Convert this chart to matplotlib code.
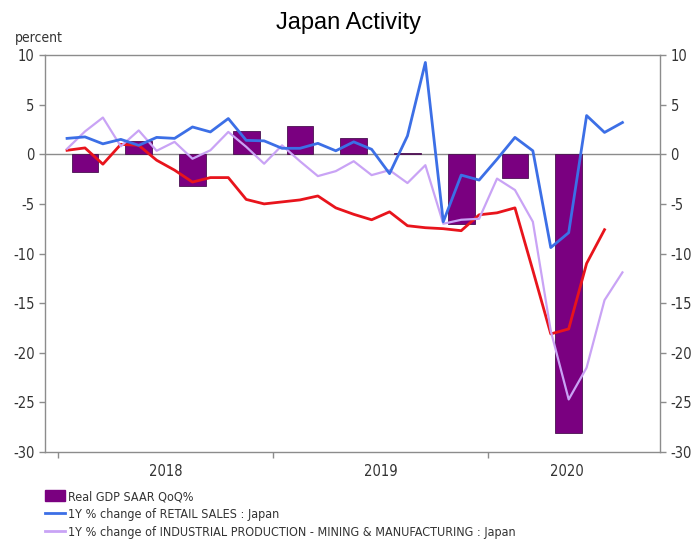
import numpy as np
import matplotlib
matplotlib.use("Agg")
import matplotlib.pyplot as plt
from matplotlib.patches import Patch
from matplotlib.lines import Line2D

plt.rcParams["axes.unicode_minus"] = False

# monthly series, Jan 2018 .. Aug 2020 (x = months since Jan 2018, mid-month)
retail_sales = [1.6, 1.75, 1.05, 1.5, 0.9, 1.7, 1.6, 2.75, 2.25, 3.6, 1.4, 1.35,
                0.6, 0.6, 1.1, 0.35, 1.25, 0.5, -1.95, 1.85, 9.25, -6.8, -2.1, -2.6,
                -0.5, 1.7, 0.35, -9.4, -7.9, 3.9, 2.2, 3.2]
industrial_prod = [0.55, 2.3, 3.7, 0.8, 2.4, 0.35, 1.25, -0.45, 0.4, 2.25, 0.75, -0.95,
                   0.9, -0.7, -2.2, -1.7, -0.7, -2.1, -1.6, -2.9, -1.1, -7.0, -6.6, -6.5,
                   -2.45, -3.6, -6.8, -17.8, -24.7, -21.5, -14.7, -11.9]
red_series = [0.4, 0.64, -1.0, 1.0, 0.9, -0.6, -1.6, -2.8, -2.35, -2.35, -4.55, -5.0,
              -4.8, -4.6, -4.2, -5.4, -6.05, -6.6, -5.8, -7.2, -7.4, -7.5, -7.7, -6.1,
              -5.9, -5.4, -11.7, -18.1, -17.6, -11.0, -7.6]

# quarterly real GDP, Q1 2018 .. Q2 2020
gdp_quarters = ["2018Q1", "2018Q2", "2018Q3", "2018Q4", "2019Q1",
                "2019Q2", "2019Q3", "2019Q4", "2020Q1", "2020Q2"]
gdp_saar = [-1.8, 1.35, -3.15, 2.35, 2.85, 1.65, 0.15, -7.0, -2.35, -28.1]

years = ["2018", "2019", "2020"]
year_label_pos = [6, 18, 28.4]

months_x = np.arange(len(retail_sales)) + 0.5
red_x = np.arange(len(red_series)) + 0.5
gdp_x = np.arange(len(gdp_saar)) * 3 + 1.5

grey = "#8c8c8c"
txt = "#333333"
purple = "#7a0080"
blue = "#3c6fe6"
lavender = "#c9a3f5"

fig = plt.figure(figsize=(6.97, 5.42), dpi=100)
ax = fig.add_axes([0.0646, 0.166, 0.8824, 0.7325])

ax.axhline(0, color=grey, lw=1.0, zorder=1)
ax.bar(gdp_x, gdp_saar, width=1.5, color=purple, edgecolor="#4a1050",
       linewidth=0.6, zorder=2)
ax.plot(red_x, red_series, color="#e8141c", lw=2.0, zorder=3)
ax.plot(months_x, industrial_prod, color=lavender, lw=1.6, zorder=3)
ax.plot(months_x, retail_sales, color=blue, lw=2.0, zorder=4)

ax.set_xlim(-0.73, 33.6)
ax.set_ylim(-30, 10)
ax.set_yticks(np.arange(-30, 11, 5))
ax.tick_params(axis="y", which="both", left=True, right=True, labelleft=True,
               labelright=True, colors=grey, labelcolor=txt, labelsize=10.5,
               length=4, width=1)
for lab in ax.get_yticklabels(which="both"):
    lab.set_fontstretch("condensed")

# year separators as ticks, labels centred in each year
ax.set_xticks([0, 12, 24])
ax.set_xticklabels([])
ax.tick_params(axis="x", colors=grey, length=4, width=1)
for lab, pos in zip(years, year_label_pos):
    ax.text(pos, -31.2, lab, ha="center", va="top", fontsize=10.5,
            color=txt, fontstretch="condensed")

for s in ax.spines.values():
    s.set_color(grey)
    s.set_linewidth(1.0)

fig.text(0.5, 0.958, "Japan Activity", ha="center", va="center", fontsize=17,
         family="Liberation Sans")
fig.text(0.022, 0.93, "percent", ha="left", va="center", fontsize=10,
         color=txt, fontstretch="condensed")

handles = [Patch(facecolor=purple, edgecolor=purple),
           Line2D([], [], color=blue, lw=2),
           Line2D([], [], color=lavender, lw=2)]
labels = ["Real GDP SAAR QoQ%",
          "1Y % change of RETAIL SALES : Japan",
          "1Y % change of INDUSTRIAL PRODUCTION - MINING & MANUFACTURING : Japan"]
fig.legend(handles, labels, loc="upper left", bbox_to_anchor=(0.057, 0.105),
           frameon=False,
           prop={"family": "DejaVu Sans", "stretch": "condensed", "size": 9},
           handlelength=1.6, handleheight=1.0, handletextpad=0.3,
           labelspacing=0.4, borderaxespad=0, labelcolor=txt)

fig.savefig("out.png", dpi=100)
